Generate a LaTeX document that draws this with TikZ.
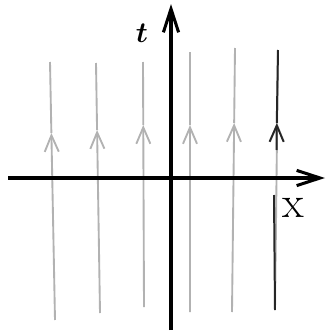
\documentclass[tikz,border=0pt]{standalone}
\usetikzlibrary{arrows.meta, calc}

\begin{document}
\begin{tikzpicture}[x=0.03cm, y=-0.03cm,
  axis/.style={line width=2.8pt, -{Straight Barb[length=20pt, width=13pt, line width=2.6pt]}},
  worldline/.style={gray!60, line width=1.6pt},
  chevron/.style={-{Straight Barb[length=14pt, width=12pt, line width=1.6pt]}},
  marked/.style={black!85, line width=1.7pt}]
  \useasboundingbox (0,0) rectangle (327,333);
  % grey lines, x_top/y_top/x_bottom/y_bottom/y_tip
  \foreach \xt/\yt/\xb/\yb/\ytip in {50/62/55/320/133, 96/63/100/313/130, 143/62/144/307/125, 190/52/190/312/125, 235/48/232/312/123, 278/50/275/310/123} {
    \coordinate (top) at (\xt,\yt);
    \coordinate (bot) at (\xb,\yb);
    \coordinate (tip) at ($(bot)!{(\yb-\ytip)/(\yb-\yt)}!(top)$);
    \draw[worldline, chevron] (bot) -- (tip);
    \draw[worldline] (tip) -- (top);
  }
  % highlighted parts of the last line
  \draw[marked, chevron] (276.5,150) -- (276.8,123);
  \draw[marked] (276.8,123) -- (278,50);
  \draw[marked] (274,195) -- (275,310);
  % axes
  \coordinate (xl) at (8,178);
  \coordinate (xr) at (325,178);
  \coordinate (tb) at (171,330);
  \coordinate (tt) at (171,4);
  \draw[axis] (xl) -- (xr);
  \draw[axis] (tb) -- (tt);
  \node[font=\fontsize{38}{42}\selectfont\boldmath] (tlabel) at (142,33) {$t$};
  \node[font=\fontsize{38}{42}\selectfont] (xlabel) at (293,208) {x};
\end{tikzpicture}
\end{document}
